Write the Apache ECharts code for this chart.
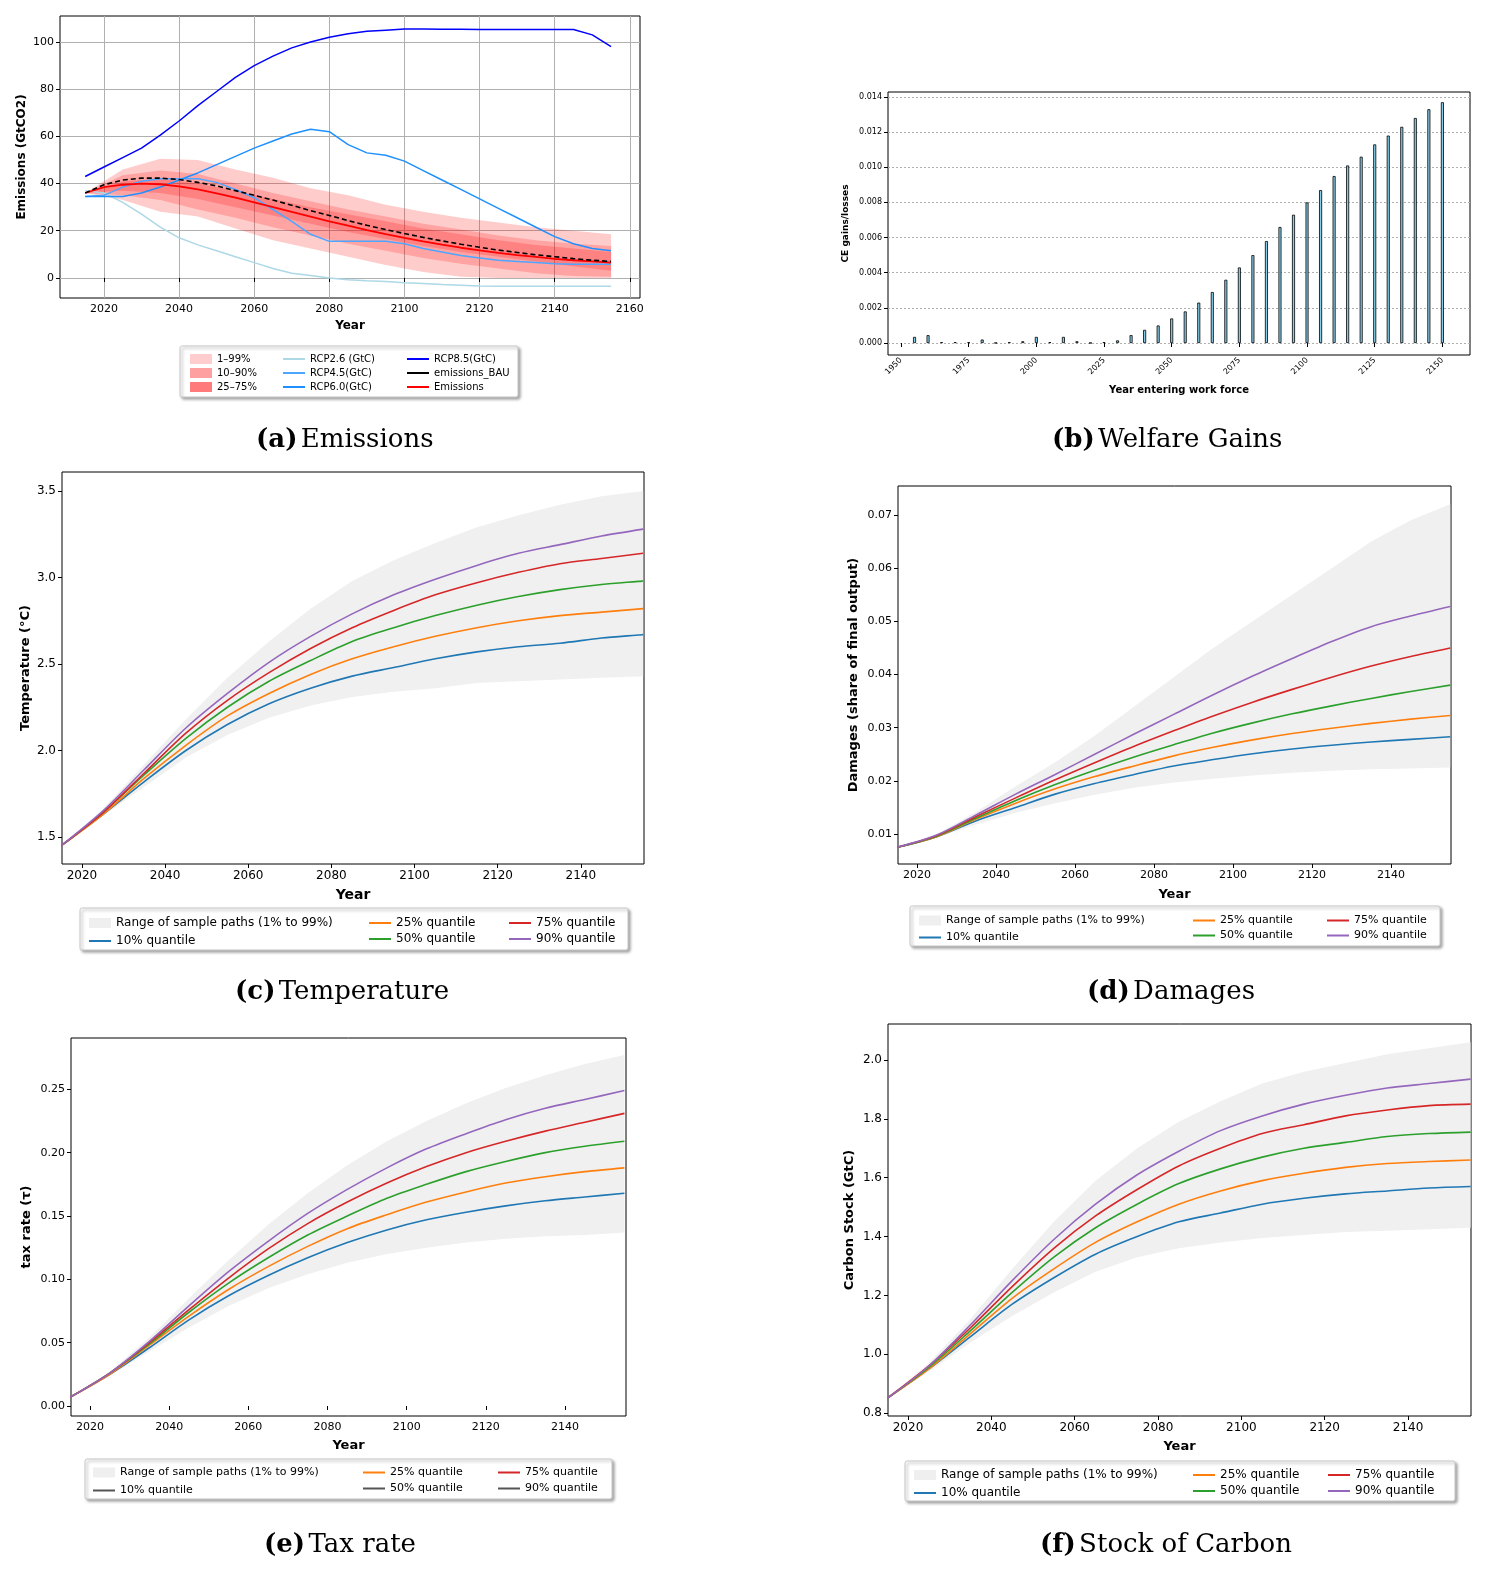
<!DOCTYPE html>
<html>
<head>
<meta charset="utf-8">
<script src="https://cdn.jsdelivr.net/npm/echarts@6/dist/echarts.min.js"></script>
<style>html,body{margin:0;padding:0;background:#fff}#main{width:1494px;height:1570px}</style>
</head>
<body>
<div id="main"></div>
<script>
// ---- data ----
const yrs5 = [2015,2020,2025,2030,2035,2040,2045,2050,2055,2060,2065,2070,2075,2080,2085,2090,2095,2100,2105,2110,2115,2120,2125,2130,2135,2140,2145,2150,2155];
const yrs10 = [2015,2025,2035,2045,2055,2065,2075,2085,2095,2105,2115,2125,2135,2145,2155];

// (a) emissions
const rcp85 = [43,47,51,55,60.5,66.5,73,79,85,90,94,97.5,100,102,103.5,104.5,105,105.5,105.5,105.4,105.4,105.3,105.3,105.3,105.3,105.3,105.3,103,98];
const rcp60 = [34.5,34.5,34.5,36,38.5,41.5,44.5,48,51.5,55,58,61,63,62,56.5,53,52,49.5,45.5,41.5,37.5,33.5,29.5,25.5,21.5,17.5,14.5,12.5,11.5];
const rcp45 = [34.5,35,38.5,41,42,42,42,40.5,37.5,34,29,24,18.5,15.5,15.5,15.5,15.5,14.5,12.5,11,9.5,8.5,7.5,7,6.5,6,5.8,5.8,5.8];
const rcp26 = [37,36,32,27,21.5,17,14,11.5,9,6.5,4,2,1,0,-0.8,-1.2,-1.5,-2,-2.4,-2.8,-3.1,-3.4,-3.5,-3.5,-3.5,-3.5,-3.5,-3.5,-3.5];
const emisBAU = [36,39.5,41.5,42.3,42.3,41.7,40.5,39,37,35,33,30.8,28.5,26.5,24.3,22.3,20.5,18.8,17.2,15.7,14.3,13,11.8,10.8,9.8,9,8.2,7.5,7];
const emis = [36,38.5,39.5,40,39.7,38.8,37.5,35.8,34,32,30,28,26,24,22.2,20.3,18.6,17,15.5,14.1,12.8,11.7,10.6,9.7,8.9,8.1,7.5,7,6.5];
const emisP01 = [36,33,28,26,21,16,12.5,9,5.5,2.5,0.5,0,0,0,0];
const emisP99 = [36,46,50.5,50,46,42.5,38,35,31,28,25.5,23.5,21.5,20,18.5];
const emisP10 = [36,35,33,29,25.5,21.5,18,14.5,11.5,8.5,6,4,2,0.8,0.5];
const emisP90 = [36,43.5,45.5,44,40,36,32.5,29,26,23,20.5,18,16,14.5,13.5];
const emisP25 = [36,37,36,33.5,30,26.5,23,19.5,16.5,13.5,11,9,7,5,3];
const emisP75 = [36,41,42,40,37,33.5,30,27,24,21,18.5,16,14,12.5,11];

// (b) welfare gains
const cohortYears = [1955,1960,1965,1970,1975,1980,1985,1990,1995,2000,2005,2010,2015,2020,2025,2030,2035,2040,2045,2050,2055,2060,2065,2070,2075,2080,2085,2090,2095,2100,2105,2110,2115,2120,2125,2130,2135,2140,2145,2150];
const ceGains = [0.00035,0.00045,0.00005,0.00005,0.00005,0.0002,0.00001,0.00005,0.0001,0.00035,0.00005,0.00035,0.0001,0.00001,0.00005,0.00015,0.00045,0.00075,0.001,0.0014,0.0018,0.0023,0.0029,0.0036,0.0043,0.005,0.0058,0.0066,0.0073,0.008,0.0087,0.0095,0.0101,0.0106,0.0113,0.0118,0.0123,0.0128,0.0133,0.0137];

// (c) temperature
const tempP01 = [1.45,1.62,1.79,1.96,2.09,2.19,2.26,2.31,2.34,2.36,2.39,2.4,2.41,2.42,2.43];
const tempP99 = [1.45,1.66,1.92,2.18,2.42,2.63,2.82,2.98,3.1,3.2,3.29,3.36,3.42,3.47,3.5];
const tempQ10 = [1.45,1.63,1.82,2.0,2.15,2.27,2.36,2.43,2.48,2.53,2.57,2.6,2.62,2.65,2.67];
const tempQ25 = [1.45,1.63,1.84,2.03,2.2,2.33,2.44,2.53,2.6,2.66,2.71,2.75,2.78,2.8,2.82];
const tempQ50 = [1.45,1.64,1.86,2.07,2.25,2.4,2.52,2.63,2.71,2.78,2.84,2.89,2.93,2.96,2.98];
const tempQ75 = [1.45,1.64,1.87,2.1,2.29,2.45,2.59,2.71,2.81,2.9,2.97,3.03,3.08,3.11,3.14];
const tempQ90 = [1.45,1.65,1.89,2.13,2.33,2.51,2.66,2.79,2.9,2.99,3.07,3.14,3.19,3.24,3.28];

// (d) damages
const damP01 = [0.0075,0.0093,0.0118,0.014,0.0158,0.0174,0.0187,0.0197,0.0204,0.021,0.0215,0.0219,0.0222,0.0223,0.0225];
const damP99 = [0.0075,0.01,0.0142,0.019,0.0235,0.0285,0.034,0.0395,0.045,0.05,0.055,0.06,0.065,0.069,0.072];
const damQ10 = [0.0075,0.0095,0.0125,0.015,0.0175,0.0195,0.0212,0.0228,0.024,0.0251,0.026,0.0267,0.0273,0.0278,0.0283];
const damQ25 = [0.0075,0.0095,0.0128,0.0158,0.0185,0.0208,0.0228,0.0247,0.0263,0.0277,0.0289,0.0299,0.0308,0.0316,0.0323];
const damQ50 = [0.0075,0.0096,0.013,0.0163,0.0193,0.022,0.0245,0.0268,0.029,0.0309,0.0326,0.0341,0.0355,0.0368,0.038];
const damQ75 = [0.0075,0.0097,0.0133,0.0168,0.0202,0.0234,0.0265,0.0294,0.0322,0.0348,0.0372,0.0395,0.0416,0.0434,0.045];
const damQ90 = [0.0075,0.0098,0.0136,0.0175,0.0212,0.025,0.0288,0.0325,0.0362,0.0397,0.043,0.0462,0.049,0.051,0.0528];

// (e) tax rate
const taxP01 = [0.007,0.024,0.043,0.062,0.079,0.093,0.104,0.113,0.12,0.125,0.129,0.132,0.134,0.135,0.137];
const taxP99 = [0.007,0.027,0.054,0.085,0.115,0.143,0.168,0.19,0.209,0.225,0.239,0.251,0.261,0.27,0.277];
const taxQ10 = [0.007,0.025,0.046,0.068,0.087,0.103,0.117,0.129,0.139,0.147,0.153,0.158,0.162,0.165,0.168];
const taxQ25 = [0.007,0.025,0.048,0.071,0.092,0.11,0.126,0.14,0.151,0.161,0.169,0.176,0.181,0.185,0.188];
const taxQ50 = [0.007,0.026,0.049,0.074,0.097,0.117,0.135,0.15,0.164,0.175,0.185,0.193,0.2,0.205,0.209];
const taxQ75 = [0.007,0.026,0.05,0.076,0.101,0.124,0.144,0.161,0.176,0.189,0.2,0.209,0.217,0.224,0.231];
const taxQ90 = [0.007,0.026,0.051,0.079,0.106,0.13,0.152,0.171,0.188,0.203,0.215,0.226,0.235,0.242,0.249];

// (f) carbon stock
const carbP01 = [0.85,0.94,1.04,1.13,1.21,1.28,1.33,1.36,1.38,1.395,1.405,1.415,1.42,1.425,1.43];
const carbP99 = [0.85,0.97,1.12,1.29,1.45,1.59,1.7,1.79,1.86,1.92,1.96,1.99,2.02,2.04,2.06];
const carbQ10 = [0.85,0.95,1.06,1.17,1.26,1.34,1.4,1.45,1.48,1.51,1.53,1.545,1.555,1.565,1.57];
const carbQ25 = [0.85,0.95,1.07,1.19,1.29,1.38,1.45,1.51,1.555,1.59,1.615,1.635,1.648,1.655,1.66];
const carbQ50 = [0.85,0.955,1.08,1.21,1.33,1.43,1.51,1.58,1.63,1.67,1.7,1.72,1.74,1.75,1.755];
const carbQ75 = [0.85,0.96,1.09,1.23,1.36,1.47,1.56,1.64,1.7,1.75,1.78,1.81,1.83,1.845,1.85];
const carbQ90 = [0.85,0.96,1.1,1.25,1.39,1.51,1.61,1.69,1.76,1.81,1.85,1.88,1.905,1.92,1.935];

const ticksA_x = [2020,2040,2060,2080,2100,2120,2140,2160];
const ticksA_y = [0,20,40,60,80,100];
const ticksB_x = [1950,1975,2000,2025,2050,2075,2100,2125,2150];
const ticksB_y = [0,0.002,0.004,0.006,0.008,0.010,0.012,0.014];
const ticksQ_x = [2020,2040,2060,2080,2100,2120,2140];
const ticksC_y = [1.5,2.0,2.5,3.0,3.5];
const ticksD_y = [0.01,0.02,0.03,0.04,0.05,0.06,0.07];
const ticksE_y = [0,0.05,0.10,0.15,0.20,0.25];
const ticksF_y = [0.8,1.0,1.2,1.4,1.6,1.8,2.0];

// ---- helpers ----
const FONT = 'DejaVu Sans';
const pairs = (xs, ys) => xs.map((x, i) => [x, ys[i]]);

function axis(gi, min, max, ticks, o) {
  return {
    type: 'value', gridIndex: gi, min: min, max: max,
    name: o.name, nameLocation: 'middle', nameGap: o.gap,
    nameTextStyle: { fontFamily: FONT, fontWeight: 'bold', fontSize: o.nameSize, color: '#000' },
    axisLine: { show: false },
    axisTick: { show: true, customValues: ticks, length: 4, lineStyle: { color: '#000' } },
    axisLabel: { customValues: ticks, fontFamily: FONT, fontSize: o.size, color: '#000', margin: o.margin || 6,
      rotate: o.rotate || 0, formatter: o.fmt || (v => String(v)) },
    splitLine: { show: !!o.grid, lineStyle: { color: o.gridColor || '#b0b0b0', type: o.gridType || 'solid', width: 1 } }
  };
}
function line(name, gi, xs, ys, color, w, extra) {
  return Object.assign({
    name: name, type: 'line', xAxisIndex: gi, yAxisIndex: gi, data: pairs(xs, ys),
    showSymbol: false, symbol: 'none', silent: true,
    lineStyle: { color: color, width: w }, itemStyle: { color: color }, z: 5
  }, extra || {});
}
// filled band between lo and hi, drawn as one polygon through the axis scales
function band(name, gi, xs, lo, hi, fill, legendColor) {
  return {
    name: name, type: 'custom', xAxisIndex: gi, yAxisIndex: gi, silent: true, z: 1,
    itemStyle: { color: legendColor },
    data: xs.map((x, i) => [x, lo[i], hi[i]]),
    encode: { x: 0, y: [1, 2] },
    renderItem: function (params, api) {
      if (params.dataIndex !== 0) return null;
      const top = xs.map((x, i) => api.coord([x, hi[i]]));
      const bot = xs.map((x, i) => api.coord([x, lo[i]])).reverse();
      return { type: 'polygon', shape: { points: top.concat(bot) }, style: { fill: fill } };
    }
  };
}
function legendCol(items, left, top, size, gap, ih) {
  return { orient: 'vertical', left: left, top: top, itemGap: gap, itemWidth: 22, itemHeight: ih || 2,
    selectedMode: false, textStyle: { fontFamily: FONT, fontSize: size, color: '#000' }, data: items };
}
const li = (name, color) => ({ name: name, icon: 'rect', itemStyle: color ? { color: color } : undefined });

const grids = [
  { left: 60, top: 16, width: 580, height: 282 },
  { left: 888, top: 92, width: 582, height: 263 },
  { left: 62, top: 472, width: 582, height: 392 },
  { left: 898, top: 486, width: 553, height: 378 },
  { left: 71, top: 1038, width: 555, height: 378 },
  { left: 888, top: 1024, width: 583, height: 392 }
].map(g => Object.assign(g, { show: true, borderColor: '#000', borderWidth: 1, backgroundColor: 'transparent' }));

const xAxes = [
  axis(0, 2008.3, 2162.7, ticksA_x, { name: 'Year', gap: 22, nameSize: 12, size: 11, grid: true }),
  axis(1, 1945.2, 2160.2, ticksB_x, { name: 'Year entering work force', gap: 30, nameSize: 10, size: 8, rotate: 45, margin: 4 }),
  axis(2, 2015.2, 2155.2, ticksQ_x, { name: 'Year', gap: 24, nameSize: 14, size: 12 }),
  axis(3, 2015.2, 2155.2, ticksQ_x, { name: 'Year', gap: 24, nameSize: 13, size: 11 }),
  axis(4, 2015.2, 2155.4, ticksQ_x, { name: 'Year', gap: 23, nameSize: 13, size: 11 }),
  axis(5, 2015.2, 2155.1, ticksQ_x, { name: 'Year', gap: 24, nameSize: 13, size: 12 })
];
const yAxes = [
  axis(0, -8.5, 111, ticksA_y, { name: 'Emissions (GtCO2)', gap: 32, nameSize: 12, size: 11, grid: true }),
  axis(1, -0.00068, 0.01428, ticksB_y, { name: 'CE gains/losses', gap: 38, nameSize: 9, size: 8, grid: true, gridType: [2, 2], fmt: v => v.toFixed(3) }),
  axis(2, 1.344, 3.61, ticksC_y, { name: 'Temperature (°C)', gap: 30, nameSize: 13, size: 12, fmt: v => v.toFixed(1) }),
  axis(3, 0.00436, 0.07545, ticksD_y, { name: 'Damages (share of final output)', gap: 38, nameSize: 13, size: 11, fmt: v => v.toFixed(2) }),
  axis(4, -0.0079, 0.2905, ticksE_y, { name: 'tax rate (τ)', gap: 38, nameSize: 13, size: 11, fmt: v => v.toFixed(2) }),
  axis(5, 0.79, 2.1224, ticksF_y, { name: 'Carbon Stock (GtC)', gap: 32, nameSize: 13, size: 12, fmt: v => v.toFixed(1) })
];

const series = [];
// (a)
series.push(band('1–99%', 0, yrs10, emisP01, emisP99, 'rgba(255,0,0,0.2)', '#ffcdcd'));
series.push(band('10–90%', 0, yrs10, emisP10, emisP90, 'rgba(255,0,0,0.2)', '#ffa0a0'));
series.push(band('25–75%', 0, yrs10, emisP25, emisP75, 'rgba(255,0,0,0.2)', '#ff7b7b'));
series.push(line('RCP2.6 (GtC)', 0, yrs5, rcp26, '#add8e6', 1.5));
series.push(line('RCP4.5(GtC)', 0, yrs5, rcp45, '#4da6ff', 1.5));
series.push(line('RCP6.0(GtC)', 0, yrs5, rcp60, '#1e90ff', 1.5));
series.push(line('RCP8.5(GtC)', 0, yrs5, rcp85, '#0000ff', 1.5));
series.push(line('emissions_BAU', 0, yrs5, emisBAU, '#000', 1.6, { lineStyle: { color: '#000', width: 1.6, type: [5, 3] }, z: 7 }));
series.push(line('Emissions', 0, yrs5, emis, '#ff0000', 1.8, { z: 6 }));
// (b)
series.push({ name: 'CE', type: 'bar', xAxisIndex: 1, yAxisIndex: 1, data: pairs(cohortYears, ceGains), barWidth: 3,
  silent: true, itemStyle: { color: '#87ceeb', borderColor: '#000', borderWidth: 0.8 } });
// quantile panels
const qColors = { q10: '#1f77b4', q25: '#ff7f0e', q50: '#2ca02c', q75: '#d62728', q90: '#9467bd' };
const RANGE = 'Range of sample paths (1% to 99%)';
function quantPanel(gi, p01, p99, q10, q25, q50, q75, q90) {
  series.push(band(RANGE, gi, yrs10, p01, p99, '#f0f0f0', '#efefef'));
  series.push(line('10% quantile', gi, yrs10, q10, qColors.q10, 1.6, { smooth: 0.3 }));
  series.push(line('25% quantile', gi, yrs10, q25, qColors.q25, 1.6, { smooth: 0.3 }));
  series.push(line('50% quantile', gi, yrs10, q50, qColors.q50, 1.6, { smooth: 0.3 }));
  series.push(line('75% quantile', gi, yrs10, q75, qColors.q75, 1.6, { smooth: 0.3 }));
  series.push(line('90% quantile', gi, yrs10, q90, qColors.q90, 1.6, { smooth: 0.3 }));
}
quantPanel(2, tempP01, tempP99, tempQ10, tempQ25, tempQ50, tempQ75, tempQ90);
quantPanel(3, damP01, damP99, damQ10, damQ25, damQ50, damQ75, damQ90);
quantPanel(4, taxP01, taxP99, taxQ10, taxQ25, taxQ50, taxQ75, taxQ90);
quantPanel(5, carbP01, carbP99, carbQ10, carbQ25, carbQ50, carbQ75, carbQ90);

// ---- legends ----
function quantLegends(x1, x2, x3, top, rowGap, size, alt) {
  const c = alt || {};
  const g = rowGap - size - 2;
  return [
    legendCol([li(RANGE, '#efefef')], x1, top, size, 0, 10),
    legendCol([li('10% quantile', c.q10)], x1, top + rowGap, size, 0),
    legendCol([li('25% quantile'), li('50% quantile', c.q50)], x2, top, size, g),
    legendCol([li('75% quantile'), li('90% quantile', c.q90)], x3, top, size, g)
  ];
}
const legends = [
  legendCol([li('1–99%'), li('10–90%'), li('25–75%')], 185, 349, 10, 4, 10),
  legendCol([li('RCP2.6 (GtC)'), li('RCP4.5(GtC)'), li('RCP6.0(GtC)')], 278, 349, 10, 4, 2),
  legendCol([li('RCP8.5(GtC)'), li('emissions_BAU'), li('Emissions')], 402, 349, 10, 4, 2),
  ...quantLegends(84, 364, 504, 912, 18, 12),
  ...quantLegends(914, 1188, 1322, 910, 17, 11, { q10: '#1f77b4', q50: '#2ca02c', q90: '#9467bd' }),
  ...quantLegends(88, 358, 493, 1462, 18, 11, { q10: '#555', q50: '#555', q90: '#555' }),
  ...quantLegends(909, 1188, 1323, 1464, 18, 12)
];

// ---- captions & legend frames ----
function frame(x, y, w, h) {
  return { type: 'rect', shape: { x: x, y: y, width: w, height: h, r: 2 }, z: -1,
    style: { fill: '#fff', stroke: '#c8c8c8', lineWidth: 1, shadowBlur: 3, shadowColor: 'rgba(0,0,0,0.35)', shadowOffsetX: 2, shadowOffsetY: 2 } };
}
function caption(x, y, tag, text) {
  return { type: 'text', left: x, top: y, style: { rich: { b: { fontFamily: 'DejaVu Serif', fontWeight: 'bold', fontSize: 26 }, t: { fontFamily: 'DejaVu Serif', fontSize: 26 } },
    text: '{b|(' + tag + ')} {t|' + text + '}', fill: '#000' } };
}
const graphic = [
  frame(180, 346, 338, 51), frame(80, 908, 548, 42), frame(910, 906, 530, 40), frame(85, 1459, 527, 40), frame(905, 1461, 550, 40),
  caption(256, 427, 'a', 'Emissions'), caption(1052, 427, 'b', 'Welfare Gains'),
  caption(235, 979, 'c', 'Temperature'), caption(1087, 979, 'd', 'Damages'),
  caption(264, 1532, 'e', 'Tax rate'), caption(1040, 1532, 'f', 'Stock of Carbon')
];

const chart = echarts.init(document.getElementById('main'), null, { renderer: 'canvas' });
chart.setOption({
  animation: false,
  backgroundColor: '#fff',
  grid: grids, xAxis: xAxes, yAxis: yAxes, series: series, legend: legends, graphic: graphic
});
</script>
</body>
</html>
